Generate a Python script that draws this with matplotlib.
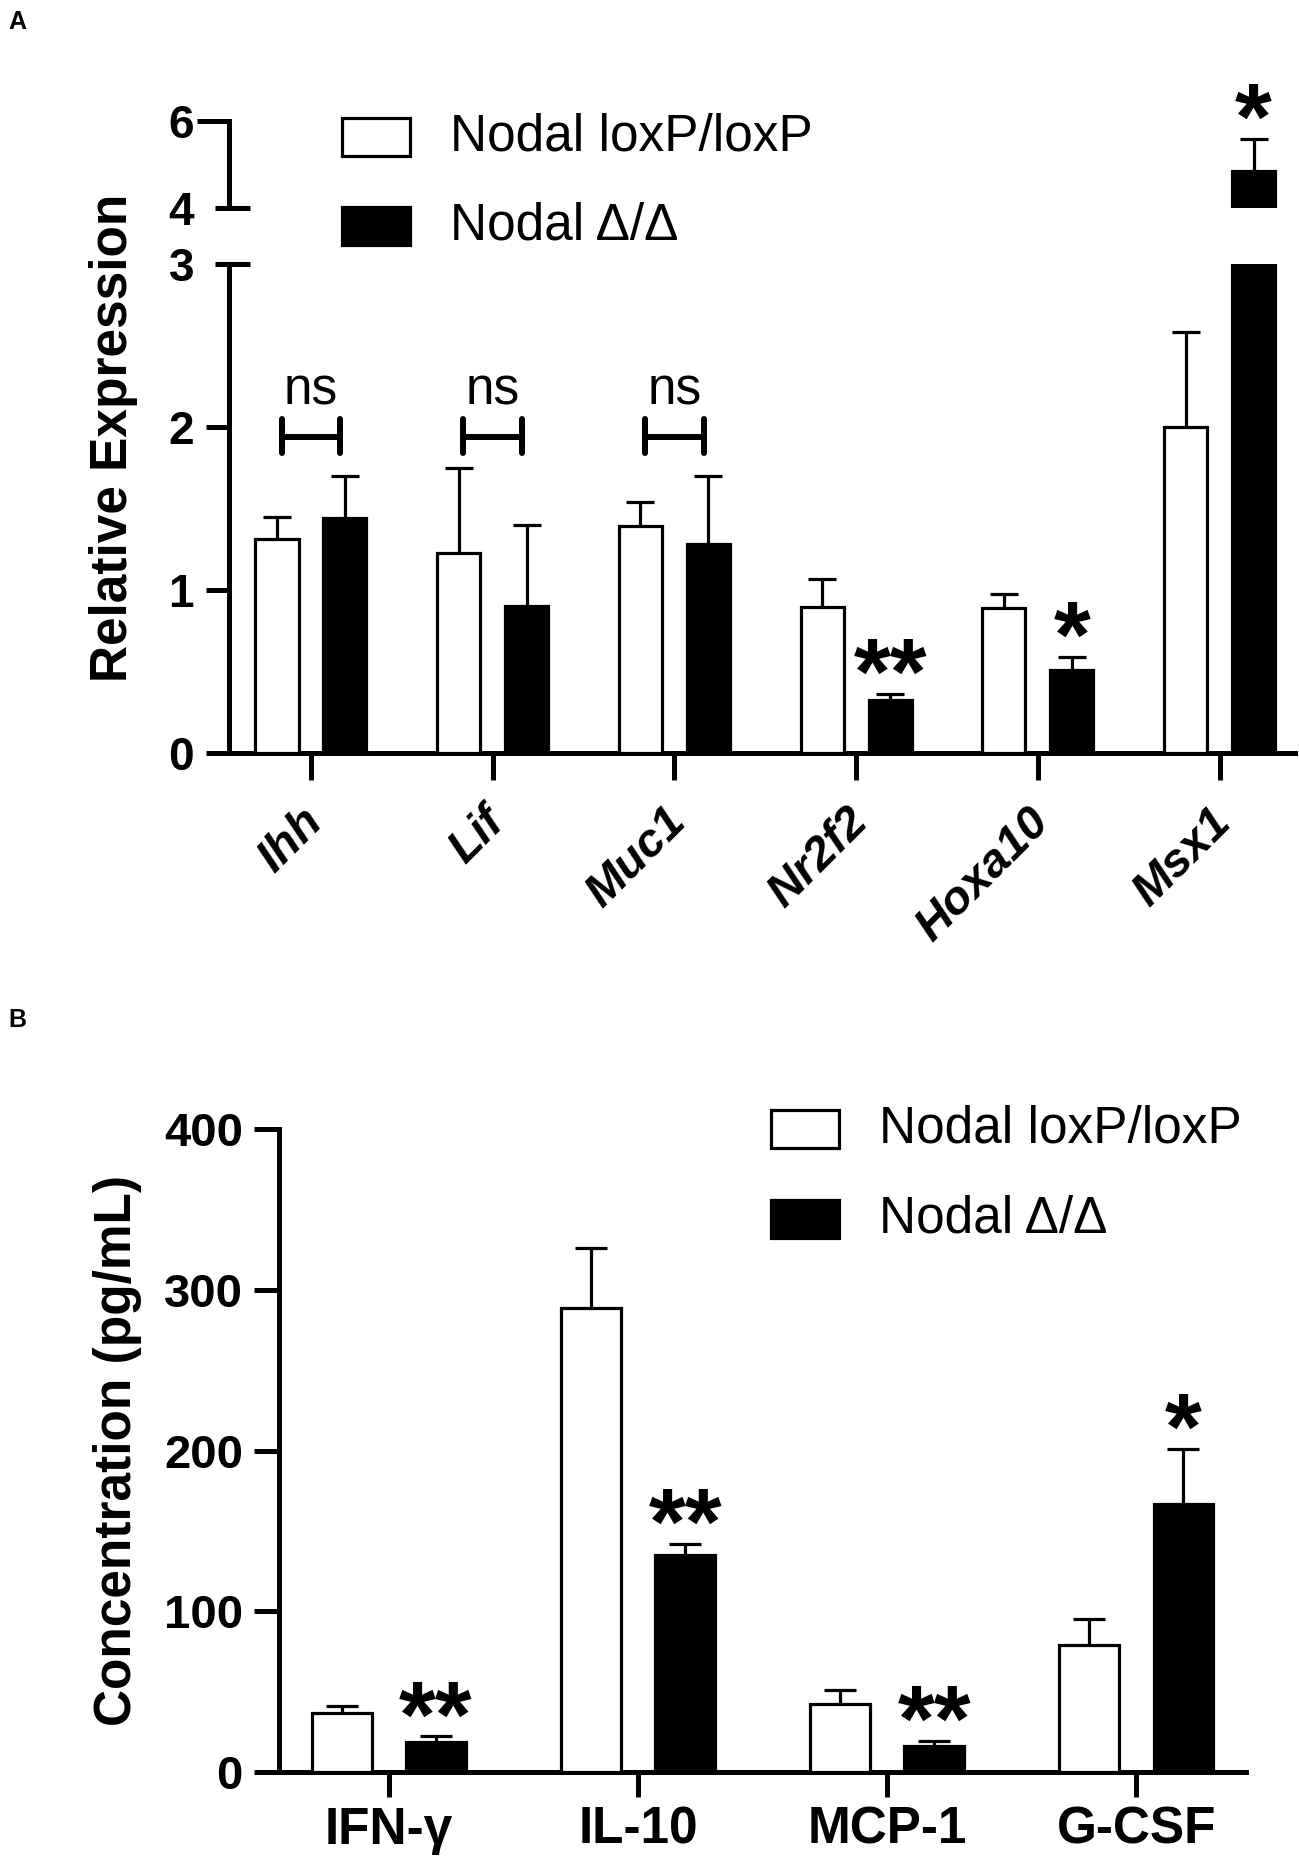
import matplotlib
matplotlib.use('Agg')
import matplotlib.pyplot as plt
import matplotlib.transforms as mtransforms
import numpy as np
from matplotlib.patches import Rectangle

plt.rcParams['font.family'] = ['Liberation Sans', 'DejaVu Sans']

# ---------------- data ----------------
genes = ['Ihh', 'Lif', 'Muc1', 'Nr2f2', 'Hoxa10', 'Msx1']
a_ctrl = [1.31, 1.23, 1.39, 0.895, 0.888, 2.0]
a_ctrl_err = [0.14, 0.52, 0.15, 0.175, 0.09, 0.58]
a_ko = [1.44, 0.90, 1.28, 0.327, 0.509, 4.85]
a_ko_err = [0.26, 0.50, 0.42, 0.035, 0.083, 0.74]
a_sig = ['ns', 'ns', 'ns', '**', '*', '*']

cytokines = ['IFN-γ', 'IL-10', 'MCP-1', 'G-CSF']
b_ctrl = [36.7, 288.5, 42.6, 79.3]
b_ctrl_err = [4.5, 37.5, 8.3, 15.6]
b_ko = [18.7, 134.7, 15.9, 166.6]
b_ko_err = [3.5, 7.0, 3.5, 34.6]
b_sig = ['**', '**', '**', '*']

legend_labels = ['Nodal loxP/loxP', 'Nodal Δ/Δ']

# ---------------- figure ----------------
W, H, DPI = 1299, 1866, 100
fig = plt.figure(figsize=(W / DPI, H / DPI), dpi=DPI)
PT = 72.0 / DPI  # points per pixel


def add_ax(left, top, right, bottom):
    return fig.add_axes([left / W, 1 - bottom / H, (right - left) / W, (bottom - top) / H])


LW = 5 * PT
BLW = 3.2 * PT


def style(ax):
    for s in ['top', 'right']:
        ax.spines[s].set_visible(False)
    for s in ['left', 'bottom']:
        ax.spines[s].set_linewidth(LW)


def draw_bars(ax, ctrl, cerr, ko, kerr, off, width, cap):
    x = np.arange(len(ctrl))
    ax.bar(x - off, ctrl, width, color='white', edgecolor='black', linewidth=BLW, zorder=3)
    ax.bar(x + off, ko, width, color='black', edgecolor='black', linewidth=BLW, zorder=3)
    for xs, v, e in ((x - off, ctrl, cerr), (x + off, ko, kerr)):
        _, caps, _ = ax.errorbar(xs, v, yerr=[np.zeros(len(v)), e], fmt='none', ecolor='black',
                                 elinewidth=BLW, capsize=cap * PT, capthick=BLW, zorder=2)
        caps[0].set_visible(False)  # no cap at the bar top
    return x


# ---------------- Panel A ----------------
offA, wA = 0.187, 0.237
axL = add_ax(229, 264, 1295, 753)
axU = add_ax(229, 121, 1295, 208)
for ax in (axL, axU):
    style(ax)
    draw_bars(ax, a_ctrl, a_ctrl_err, a_ko, a_ko_err, offA, wA, 14)
    ax.set_xlim(-0.451, 5.415)

axL.set_ylim(0, 3)
axU.set_ylim(4, 6)
axU.spines['bottom'].set_visible(False)
axU.tick_params(axis='x', which='both', bottom=False, labelbottom=False)

axL.set_yticks([0, 1, 2, 3])
axU.set_yticks([4, 6])
for ax in (axL, axU):
    ax.tick_params(axis='y', length=23 * PT, width=LW, pad=12 * PT, labelsize=33)
    for t in ax.get_yticklabels():
        t.set_fontweight('bold')
axL.yaxis.get_major_ticks()[3].tick1line.set_visible(False)
axU.yaxis.get_major_ticks()[0].tick1line.set_visible(False)
axU.yaxis.get_major_ticks()[1].tick1line.set_markersize(32 * PT)

# break marks at 3 and 4
axw = 1295 - 229
for ax, yv in ((axL, 3), (axU, 4)):
    ax.plot([-14 / axw, 21 / axw], [yv, yv], transform=ax.get_yaxis_transform(),
            color='black', lw=LW, clip_on=False, solid_capstyle='butt', zorder=5)

axL.set_xticks(np.arange(len(genes)))
axL.set_xticklabels(genes, rotation=45, ha='right', rotation_mode='anchor',
                    fontsize=34, fontweight='bold', fontstyle='italic')
axL.tick_params(axis='x', length=27 * PT, width=LW, pad=20 * PT)
shift = mtransforms.ScaledTranslation(-11 / DPI, 0, fig.dpi_scale_trans)
for lab in axL.get_xticklabels():
    lab.set_transform(lab.get_transform() + shift)

# significance A
for i, s in enumerate(a_sig):
    if s == 'ns':
        x0, x1 = i - offA + 0.025, i + offA - 0.025
        kw = dict(color='black', lw=6 * PT, solid_capstyle='round')
        axL.plot([x0, x1], [1.94, 1.94], **kw)
        axL.plot([x0, x0], [1.84, 2.05], **kw)
        axL.plot([x1, x1], [1.84, 2.05], **kw)
        axL.text(i, 2.135, 'ns', ha='center', va='baseline', fontsize=37)
    else:
        top = a_ko[i] + a_ko_err[i]
        ax = axU if top > 3 else axL
        ax.annotate(s, xy=(i + offA, top), xytext=(0, -10 * PT), textcoords='offset points',
                    ha='center', va='baseline', fontsize=68, fontweight='bold',
                    annotation_clip=False)

fig.text(113 / W, 1 - 438 / H, 'Relative Expression', rotation=90, ha='center', va='center',
         fontsize=37, fontweight='bold')


# legend
def draw_legend(xbox, y1, y2, xtext):
    bw, bh = 68, 38
    for (yc, fc), lab in zip(((y1, 'white'), (y2, 'black')), legend_labels):
        r = Rectangle((xbox / W, 1 - (yc + bh / 2) / H), bw / W, bh / H, transform=fig.transFigure,
                      facecolor=fc, edgecolor='black', linewidth=BLW)
        fig.add_artist(r)
        fig.text(xtext / W, 1 - yc / H, lab, ha='left', va='center', fontsize=37)


draw_legend(342, 137, 226, 450)

fig.text(8 / W, 1 - 10 / H, 'A', ha='left', va='top', fontsize=18, fontweight='bold')

# ---------------- Panel B ----------------
offB, wB = 0.189, 0.24
axB = add_ax(279, 1129, 1246, 1772)
style(axB)
draw_bars(axB, b_ctrl, b_ctrl_err, b_ko, b_ko_err, offB, wB, 16)
axB.set_xlim(-0.441, 3.44)
axB.set_ylim(0, 400)
axB.set_yticks([0, 100, 200, 300, 400])
axB.tick_params(axis='y', length=25 * PT, width=LW, pad=11 * PT, labelsize=34)
for t in axB.get_yticklabels():
    t.set_fontweight('bold')
axB.set_xticks(np.arange(len(cytokines)))
axB.set_xticklabels(cytokines, fontsize=37, fontweight='bold')
axB.tick_params(axis='x', length=25 * PT, width=LW, pad=9 * PT)

for i, s in enumerate(b_sig):
    top = b_ko[i] + b_ko_err[i]
    axB.annotate(s, xy=(i + offB, top), xytext=(0, -10 * PT), textcoords='offset points',
                 ha='center', va='baseline', fontsize=68, fontweight='bold',
                 annotation_clip=False)

fig.text(117 / W, 1 - 1450 / H, 'Concentration (pg/mL)', rotation=90, ha='center', va='center',
         fontsize=37, fontweight='bold')

draw_legend(771, 1129, 1219, 879)

fig.text(8 / W, 1 - 1008 / H, 'B', ha='left', va='top', fontsize=18, fontweight='bold')

fig.savefig('out.png', dpi=DPI, facecolor='white')
